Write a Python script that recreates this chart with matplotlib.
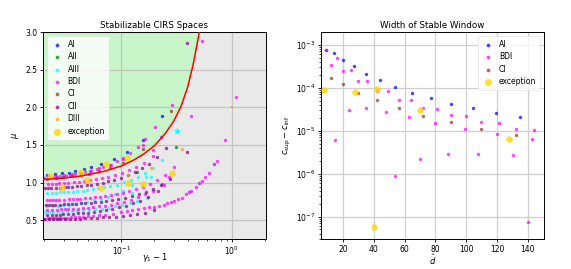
import matplotlib
matplotlib.use("Agg")
import matplotlib.pyplot as plt

# ---------------- left panel data ----------------
boundary_x = [0.019, 0.02, 0.03, 0.04, 0.05, 0.07, 0.1, 0.13, 0.16, 0.2, 0.25, 0.3, 0.35, 0.4, 0.45, 0.5, 0.53]
boundary_mu = [1.038, 1.04, 1.06, 1.08, 1.105, 1.15, 1.22, 1.30, 1.38, 1.49, 1.65, 1.82, 2.02, 2.27, 2.58, 2.93, 3.15]

ai_x = [0.0212, 0.0248, 0.0291, 0.0334, 0.0384, 0.0458, 0.0526, 0.0648, 0.0858, 0.1117, 0.156, 0.233]
ai_y = [1.10, 1.113, 1.122, 1.13, 1.153, 1.175, 1.21, 1.246, 1.308, 1.406, 1.56, 1.885]

aii_x = [0.316, 0.138]
aii_y = [1.477, 1.135]

aiii0_x = [.0204, .0221, .0238, .0264, .0289, .0323, .0357, .04, .045, .051,
           .0578, .0663, .0765, .0884, .102, .119, .1394, .17]
aiii0_y = [.608, .609, .611, .613, .615, .619, .622, .626, .631, .638,
           .645, .655, .668, .683, .701, .724, .753, .80]
aiii1_x = [.0214, .0239, .0265, .0296, .0334, .0378, .0428, .0491, .0567, .0655, .0756, .0882, .1033, .126]
aiii1_y = [.682, .686, .692, .698, .706, .716, .728, .743, .762, .785, .813, .849, .894, .966]
aiii2_x = [.0211, .0234, .0257, .0281, .0304, .0328, .0363, .0398, .0445, .0491,
           .055, .062, .0702, .0796, .0913, .1053, .1217, .1404, .1638, .1919, .234]
aiii2_y = [.860, .863, .866, .869, .872, .875, .880, .885, .893, .900,
           .909, .921, .935, .952, .974, 1.001, 1.034, 1.074, 1.126, 1.192, 1.295]
aiii3_x = [0.41, 0.51, 0.69, 0.186, 0.126, 0.166]
aiii3_y = [0.869, 0.99, 1.246, 1.077, 0.864, 1.076]

bdi1_x = [0.0205, 0.0215, 0.0226, 0.0238, 0.0252, 0.0267, 0.0284, 0.0303, 0.0325, 0.035,
          0.0379, 0.0413, 0.0453, 0.05, 0.0556, 0.0625, 0.0714, 0.0833, 0.1, 0.112,
          0.126, 0.142, 0.16, 0.178, 0.2, 0.221, 0.242, 0.26, 0.282, 0.303,
          0.325, 0.353, 0.387, 0.41, 0.43, 0.476, 0.51, 0.54, 0.58, 0.62,
          0.69, 0.73]
bdi1_y = [0.522, 0.523, 0.524, 0.525, 0.526, 0.527, 0.529, 0.531, 0.533, 0.536,
          0.539, 0.543, 0.547, 0.552, 0.558, 0.566, 0.575, 0.588, 0.605, 0.618,
          0.632, 0.647, 0.662, 0.672, 0.68, 0.688, 0.70, 0.722, 0.744, 0.757,
          0.775, 0.80, 0.842, 0.869, 0.89, 0.943, 0.99, 1.02, 1.07, 1.13,
          1.246, 1.29]
bdi2_x = [.0212, .0236, .026, .0283, .0307, .033, .0366, .0401, .0448, .0496,
          .0555, .0625, .0708, .0802, .092, .1062, .1227, .1416, .1652, .1935, .236]
bdi2_y = [.636, .638, .640, .643, .645, .648, .651, .655, .661, .667,
          .674, .683, .694, .707, .724, .746, .772, .803, .843, .894, .975]
bdi3_x = [.0212, .0227, .0242, .0258, .0273, .0303, .0333, .0364, .0394, .0424,
          .047, .0515, .0576, .0636, .0712, .0803, .0909, .103, .1182, .1364,
          .1576, .1818, .2121, .2485, .303]
bdi3_y = [.764, .766, .767, .769, .770, .773, .776, .779, .782, .786,
          .791, .796, .803, .810, .820, .832, .846, .863, .885, .913,
          .946, .987, 1.039, 1.106, 1.21]
bdi4_x = [.0215, .0234, .0254, .0273, .0302, .0332, .0371, .041, .0458, .0517,
          .0585, .0663, .0761, .0878, .1014, .117, .1365, .1599, .195]
bdi4_y = [.982, .985, .987, .990, .995, .999, 1.005, 1.011, 1.019, 1.029,
          1.042, 1.056, 1.075, 1.098, 1.127, 1.161, 1.205, 1.261, 1.35]
bdi5_x = [.0201, .0221, .0241, .0261, .0281, .0312, .0342, .0382, .0422, .0472,
          .0533, .0603, .0683, .0784, .0905, .1045, .1206, .1407, .1648, .201]
bdi5_y = [1.065, 1.070, 1.075, 1.080, 1.085, 1.092, 1.100, 1.111, 1.123, 1.137,
          1.155, 1.177, 1.203, 1.237, 1.280, 1.331, 1.393, 1.473, 1.575, 1.735]
bdi6_x = [.0215, .0258, .0301, .0359, .0431, .0517, .0631, .0804, .1033, .1579, .287]
bdi6_y = [1.084, 1.093, 1.102, 1.116, 1.133, 1.155, 1.187, 1.237, 1.310, 1.501, 2.03]
bdi7_x = [0.537, 0.43, 0.231, 0.195, 0.242, 1.1, 0.87, 0.27]
bdi7_y = [2.876, 1.88, 1.61, 1.43, 0.966, 2.14, 1.57, 1.08]

ci1_x = [.0214, .0257, .0299, .0356, .0428, .0513, .0627, .0798, .1026, .1568, .285]
ci1_y = [1.052, 1.061, 1.070, 1.082, 1.099, 1.120, 1.150, 1.198, 1.266, 1.448, 1.95]

cii1_x = [0.02, 0.022, 0.024, 0.026, 0.028, 0.031, 0.034, 0.038, 0.042, 0.047,
          0.053, 0.06, 0.068, 0.078, 0.09, 0.104, 0.12, 0.14, 0.164, 0.2]
cii1_y = [0.511, 0.512, 0.513, 0.514, 0.515, 0.516, 0.517, 0.519, 0.521, 0.524,
          0.527, 0.531, 0.536, 0.542, 0.549, 0.558, 0.569, 0.584, 0.602, 0.63]
cii2_x = [.0213, .0234, .0256, .0277, .0298, .033, .0362, .0405, .0447, .0501,
          .0564, .0639, .0724, .0831, .0959, .1108, .1278, .149, .1747, .213]
cii2_y = [.567, .569, .571, .574, .576, .580, .584, .589, .594, .601,
          .610, .620, .633, .649, .669, .693, .723, .761, .810, .886]
cii3_x = [.0208, .0222, .0235, .0249, .0277, .0305, .0332, .036, .0388, .0429,
          .0471, .0526, .0582, .0651, .0734, .0831, .0942, .108, .1247, .144,
          .1662, .1939, .2271, .277]
cii3_y = [.702, .703, .704, .706, .708, .710, .713, .715, .718, .722,
          .726, .731, .737, .744, .753, .764, .778, .795, .816, .842,
          .873, .914, .965, 1.046]
cii4_x = [.0204, .0217, .023, .0255, .0281, .0306, .0332, .0357, .0395, .0434,
          .0485, .0536, .0599, .0676, .0765, .0867, .0995, .1148, .1326, .153,
          .1785, .2091, .255]
cii4_y = [.921, .923, .924, .928, .932, .936, .939, .943, .950, .956,
          .965, .974, .985, 1.000, 1.017, 1.038, 1.065, 1.098, 1.139, 1.188,
          1.252, 1.333, 1.46]
cii5_x = [0.393, 0.395]
cii5_y = [2.86, 1.41]

diii_x = [0.356, 0.187, 0.116]
diii_y = [1.446, 1.195, 1.10]

exc_left_x = [0.0228, 0.029, 0.0427, 0.049, 0.065, 0.073, 0.112, 0.115, 0.157, 0.29]
exc_left_y = [1.09, 0.943, 1.14, 1.033, 0.93, 1.24, 1.32, 1.0, 0.975, 1.13]

star_x = [0.323]
star_y = [1.69]
odd_x = [1.0]
odd_y = [2.0]

# ---------------- right panel data ----------------
r_ai_d = [9.0, 13.9, 20.0, 26.9, 34.9, 44.0, 53.9, 64.8, 76.9, 90.0, 104.1, 119.2, 135.2]
r_ai_w = [7.5e-4, 6.4e-4, 4.47e-4, 3.13e-4, 2.11e-4, 1.47e-4, 1.05e-4, 7.6e-5, 5.7e-5,
          4.2e-5, 3.29e-5, 2.56e-5, 2.06e-5]

r_bdi_d = [9.0, 12.0, 15.9, 14.8, 20.0, 23.9, 25.0, 29.9, 34.9, 35.8, 42.1, 47.9, 49.2,
           53.7, 56.1, 62.8, 63.9, 69.7, 72.1, 79.9, 81.0, 87.9, 89.8, 98.9, 100.0,
           107.8, 109.9, 120.1, 121.0, 130.3, 132.0, 140.0, 142.8, 144.1]
r_bdi_w = [7.5e-4, 3.36e-4, 4.89e-4, 6.1e-6, 2.39e-4, 3.05e-5, 2.61e-4, 1.42e-4, 3.34e-5,
           1.45e-4, 8.47e-5, 2.7e-5, 8.2e-5, 8.55e-7, 5.2e-5, 2.05e-5, 5.1e-5, 2.21e-6,
           3.4e-5, 1.5e-5, 3.23e-5, 2.83e-6, 2.26e-5, 1.1e-5, 2.14e-5, 2.88e-6, 1.55e-5,
           8.3e-6, 1.5e-5, 2.69e-6, 1.1e-5, 7.4e-8, 6.3e-6, 1.06e-5]

r_ci_d = [12.0, 20.0, 29.9, 42.1, 56.1, 72.1, 89.8, 109.9, 132.0]
r_ci_w = [1.64e-4, 1.21e-4, 7.7e-5, 5.05e-5, 3.29e-5, 2.22e-5, 1.55e-5, 1.1e-5, 8.1e-6]

r_exc_d = [7.7, 27.8, 41.8, 69.9, 127.7, 40.1]
r_exc_w = [8.6e-5, 7.9e-5, 9.3e-5, 2.95e-5, 6.45e-6, 5.85e-8]

# ---------------- styling ----------------
plt.rcParams['font.family'] = ['DejaVu Sans']
plt.rcParams['mathtext.fontset'] = 'dejavusans'

col = {
    'AI': 'blue', 'AII': 'green', 'AIII': 'cyan', 'BDI': 'magenta',
    'CI': 'brown', 'CII': 'purple', 'DIII': 'orange', 'exc': 'gold',
}
S = 6
SE = 22
A = 0.72

fig = plt.figure(figsize=(5.71, 2.69), dpi=100)
ax1 = fig.add_axes([0.0753, 0.1115, 0.3905, 0.7695])
ax2 = fig.add_axes([0.5617, 0.1115, 0.391, 0.7695])

# left panel
ax1.set_xscale('log')
ax1.set_facecolor('#e9e9e9')
ax1.fill_between(boundary_x, boundary_mu, 3.5, color='#c8f6c8', zorder=0.1, linewidth=0)
ax1.set_axisbelow(True)
ax1.grid(True, which='major', color='#c4c4c4', linewidth=0.9)


def cat(*lists):
    out = []
    for l in lists:
        out += l
    return out


groups = [
    ('AI', ai_x, ai_y),
    ('AII', aii_x, aii_y),
    ('AIII', cat(aiii0_x, aiii1_x, aiii2_x, aiii3_x), cat(aiii0_y, aiii1_y, aiii2_y, aiii3_y)),
    ('BDI', cat(bdi1_x, bdi2_x, bdi3_x, bdi4_x, bdi5_x, bdi6_x, bdi7_x),
     cat(bdi1_y, bdi2_y, bdi3_y, bdi4_y, bdi5_y, bdi6_y, bdi7_y)),
    ('CI', ci1_x, ci1_y),
    ('CII', cat(cii1_x, cii2_x, cii3_x, cii4_x, cii5_x), cat(cii1_y, cii2_y, cii3_y, cii4_y, cii5_y)),
    ('DIII', diii_x, diii_y),
]
for name, gx, gy in groups:
    ax1.scatter(gx, gy, s=S, color=col[name], alpha=A, linewidths=0, label=name, zorder=2)
ax1.scatter(exc_left_x, exc_left_y, s=SE, color=col['exc'], alpha=0.8, linewidths=0,
            label='exception', zorder=3)
ax1.scatter(star_x, star_y, s=34, marker='*', color='cyan', linewidths=0, zorder=3)
ax1.scatter(odd_x, odd_y, s=4, marker='s', color='#c8a872', linewidths=0, zorder=3)
ax1.plot(boundary_x, boundary_mu, color='red', linewidth=1.1, zorder=4)

ax1.set_xlim(0.0195, 2.05)
ax1.set_ylim(0.25, 3.0)
ax1.set_yticks([0.5, 1.0, 1.5, 2.0, 2.5, 3.0])
ax1.set_title('Stabilizable CIRS Spaces', fontsize=6.3, pad=3)
ax1.set_xlabel(r'$\gamma_1 - 1$', fontsize=6, va='center')
ax1.xaxis.set_label_coords(0.5, -0.087)
ax1.set_ylabel(r'$\mu$', fontsize=6, labelpad=3)
ax1.tick_params(labelsize=5.5, length=2.5, width=0.6, pad=1.5)
ax1.tick_params(which='minor', length=1.5, width=0.5)
leg1 = ax1.legend(loc='upper left', fontsize=5.5, frameon=True, framealpha=0.8,
                  borderpad=0.5, handletextpad=0.6, labelspacing=0.45, handlelength=1.6,
                  markerscale=1.1)
leg1.get_frame().set_linewidth(0.5)
leg1.get_frame().set_edgecolor('#dddddd')

# right panel
ax2.set_yscale('log')
ax2.set_axisbelow(True)
ax2.grid(True, which='major', color='#cfcfcf', linewidth=0.9)
ax2.scatter(r_ai_d, r_ai_w, s=S, color=col['AI'], alpha=A, linewidths=0, label='AI', zorder=2)
ax2.scatter(r_bdi_d, r_bdi_w, s=S, color=col['BDI'], alpha=A, linewidths=0, label='BDI', zorder=2)
ax2.scatter(r_ci_d, r_ci_w, s=S, color=col['CI'], alpha=A, linewidths=0, label='CI', zorder=2)
ax2.scatter(r_exc_d, r_exc_w, s=SE, color=col['exc'], alpha=0.8, linewidths=0,
            label='exception', zorder=3)
ax2.set_xlim(5.5, 150.5)
ax2.set_ylim(3.0e-8, 1.97e-3)
ax2.set_xticks([20, 40, 60, 80, 100, 120, 140])
ax2.set_title('Width of Stable Window', fontsize=6.3, pad=3)
ax2.set_xlabel(r'$\hat{d}$', fontsize=6, va='center')
ax2.xaxis.set_label_coords(0.5, -0.1)
ax2.set_ylabel(r'$c_{\mathrm{sup}} - c_{\mathrm{inf}}$', fontsize=6, labelpad=2)
ax2.tick_params(labelsize=5.5, length=2.5, width=0.6, pad=1.5)
ax2.tick_params(which='minor', length=1.5, width=0.5)
leg2 = ax2.legend(loc='upper right', fontsize=5.5, frameon=True, framealpha=0.8,
                  borderpad=0.5, handletextpad=0.6, labelspacing=0.45, handlelength=1.6,
                  markerscale=1.1)
leg2.get_frame().set_linewidth(0.5)
leg2.get_frame().set_edgecolor('#dddddd')

for ax in (ax1, ax2):
    for sp in ax.spines.values():
        sp.set_linewidth(0.7)

fig.savefig('out.png', dpi=100)
